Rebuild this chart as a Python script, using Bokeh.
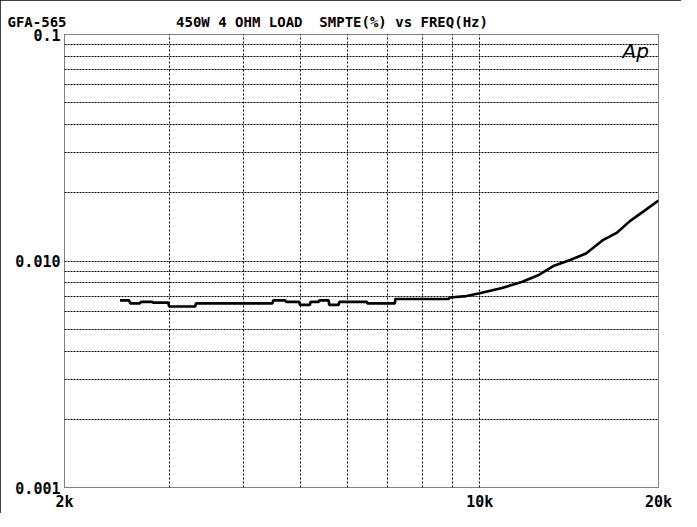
from bokeh.plotting import figure
from bokeh.models import FixedTicker, Label
from bokeh.embed import file_html
from bokeh.resources import INLINE

# ---- data ----
freq_hz = [2480, 2570, 2580, 2680, 2690, 2810, 2820, 2990, 3000, 3320, 3330,
           4480, 4490, 4710, 4720, 4970, 4980, 5180, 5190, 5360, 5370, 5570,
           5580, 5790, 5800, 6460, 6470, 7200, 7210, 8880, 8890, 9500, 10000,
           10900, 11800, 12600, 13300, 14200, 15100, 16150, 17000, 17900,
           18900, 20000]
smpte_pct = [0.0067, 0.0067, 0.0065, 0.0065, 0.0066, 0.0066, 0.00655, 0.00655,
             0.0063, 0.0063, 0.0065, 0.0065, 0.0067, 0.0067, 0.0066, 0.0066,
             0.0064, 0.0064, 0.0066, 0.0066, 0.0067, 0.0067, 0.0064, 0.0064,
             0.0066, 0.0066, 0.0065, 0.0065, 0.0068, 0.0068, 0.0069, 0.0070,
             0.0072, 0.0076, 0.0081, 0.0087, 0.0095, 0.0101, 0.0108, 0.0124,
             0.0133, 0.0150, 0.0166, 0.0185]

x_grid = [2000, 3000, 4000, 5000, 6000, 7000, 8000, 9000, 10000, 20000]
y_grid = [0.001, 0.002, 0.003, 0.004, 0.005, 0.006, 0.007, 0.008, 0.009,
          0.01, 0.02, 0.03, 0.04, 0.05, 0.06, 0.07, 0.08, 0.09, 0.1]
x_ticks = [2000, 10000, 20000]
x_tick_labels = ["2k", "10k", "20k"]
y_ticks = [0.001, 0.01, 0.1]
y_tick_labels = ["0.001", "0.010", "0.1"]

left_title = "GFA-565"
main_title = "450W 4 OHM LOAD  SMPTE(%) vs FREQ(Hz)"
logo = "Ap"

FONT = "DejaVu Sans Mono"
NBSP = "\u00a0"

p = figure(frame_width=594, frame_height=453, x_axis_type="log", y_axis_type="log",
           x_range=(2000, 20000), y_range=(0.001, 0.1),
           output_backend="svg", toolbar_location=None,
           min_border_left=64, min_border_right=23, min_border_top=34,
           min_border_bottom=24)
p.background_fill_color = "white"
p.border_fill_color = "white"
p.outline_line_color = "black"
p.outline_line_dash = "1 1"
p.outline_line_width = 1
p.styles = {"outline": "2px solid black", "outline-offset": "-2px"}

# title row: left id + main title on one line (monospace, non-breaking gaps)
p.title.text = (left_title + NBSP * 13 + main_title).replace(" ", NBSP)
p.title.align = "left"
p.title.offset = -57
p.title.standoff = 10
p.title.text_font = FONT
p.title.text_font_style = "bold"
p.title.text_font_size = "14px"
p.title.text_color = "black"

# grids
p.xgrid.ticker = FixedTicker(ticks=x_grid)
p.ygrid.ticker = FixedTicker(ticks=y_grid)
p.xgrid.grid_line_color = "black"
p.xgrid.grid_line_dash = "2 2"
p.xgrid.grid_line_width = 1
p.ygrid.grid_line_color = "black"
p.ygrid.grid_line_dash = "2 1"
p.ygrid.grid_line_width = 1
p.xgrid.minor_grid_line_color = None
p.ygrid.minor_grid_line_color = None

# axes
for ax in (p.xaxis[0], p.yaxis[0]):
    ax.axis_line_color = None
    ax.major_tick_line_color = None
    ax.minor_tick_line_color = None
    ax.major_tick_out = 0
    ax.major_tick_in = 0
    ax.minor_tick_out = 0
    ax.minor_tick_in = 0
    ax.major_label_text_font = FONT
    ax.major_label_text_font_style = "bold"
    ax.major_label_text_font_size = "15px"
    ax.major_label_text_color = "black"

p.xaxis[0].ticker = FixedTicker(ticks=x_ticks)
p.xaxis[0].major_label_overrides = {t: s for t, s in zip(x_ticks, x_tick_labels)}
p.xaxis[0].major_label_standoff = 5
p.yaxis[0].ticker = FixedTicker(ticks=y_ticks)
p.yaxis[0].major_label_overrides = {t: s for t, s in zip(y_ticks, y_tick_labels)}
p.yaxis[0].major_label_standoff = 4

# curve
p.line(freq_hz, smpte_pct, line_color="black", line_width=2.6)

# logo inside the plot frame (screen px relative to the frame)
p.add_layout(Label(x=558, y=437, x_units="screen", y_units="screen",
                   text=logo, text_font="DejaVu Sans", text_font_style="italic",
                   text_font_size="20px", text_color="black",
                   text_baseline="middle"))

open("out.html", "w").write(file_html(p, INLINE))
